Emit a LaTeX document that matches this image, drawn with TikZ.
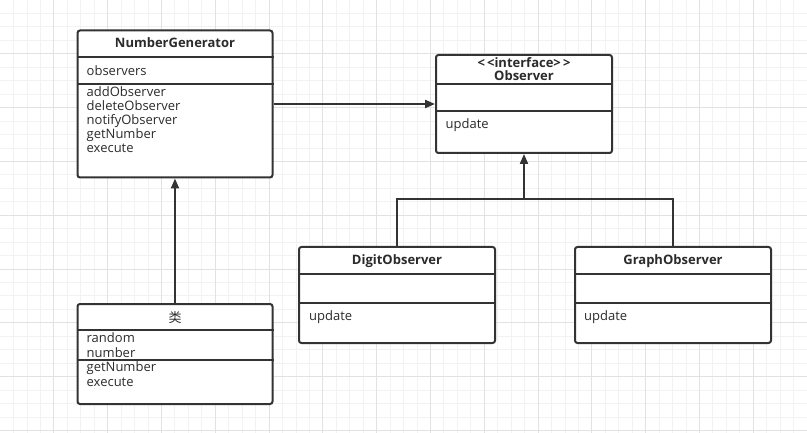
\documentclass[tikz,border=0pt]{standalone}
\usepackage{fontspec}
\setmainfont{Open Sans}
\newfontfamily\cjk{Noto Sans CJK SC}
\usetikzlibrary{arrows.meta}

\definecolor{umlline}{HTML}{333333}
\definecolor{umltext}{HTML}{2B2B2B}
\definecolor{gridminor}{HTML}{F2F2F2}
\definecolor{gridmajor}{HTML}{E2E2E2}
\newcommand\umlsize{\fontsize{13}{14}\selectfont}

\tikzset{
  classbox/.style={draw=umlline, line width=2pt, rounded corners=2.5pt, fill=white, inner sep=0pt},
  sepline/.style={draw=umlline, line width=2pt},
  title/.style={font=\umlsize\bfseries, text=umltext, anchor=base, inner sep=0pt},
  member/.style={font=\umlsize, text=umltext, anchor=base west, inner sep=0pt},
  link/.style={draw=umlline, line width=2pt, -{Triangle[length=10pt,width=8pt]}},
}

\begin{document}
\begin{tikzpicture}[x=1pt, y=-1pt]
  \useasboundingbox (0,0) rectangle (807,433);
  \fill[white] (0,0) rectangle (807,433);
  \foreach \i in {1,...,60} \draw[gridminor, line width=0.8pt] (\i*13.45,0) -- (\i*13.45,433);
  \foreach \i in {1,...,32} \draw[gridminor, line width=0.8pt] (0,\i*13.45) -- (807,\i*13.45);
  \foreach \i in {1,...,15} \draw[gridmajor, line width=0.8pt] (\i*53.8,0) -- (\i*53.8,433);
  \foreach \i in {1,...,8} \draw[gridmajor, line width=0.8pt] (0,\i*53.8) -- (807,\i*53.8);

  \draw (175,104) node[classbox, minimum width=195, minimum height=147] (gen) {};
  \draw[sepline] (gen.west |- 0,57) -- (gen.east |- 0,57);
  \draw[sepline] (gen.west |- 0,84) -- (gen.east |- 0,84);
  \draw (175,48) node[title] (gen-name) {NumberGenerator};
  \draw (86.5,75.5) node[member] (gen-attr) {observers};
  \foreach \m [count=\k] in {addObserver, deleteObserver, notifyObserver, getNumber, execute}
    \draw (86.5,{96.5+14*(\k-1)}) node[member] (gen-op\k) {\m};

  \draw (524,104) node[classbox, minimum width=176, minimum height=98] (obs) {};
  \draw[sepline] (obs.west |- 0,84) -- (obs.east |- 0,84);
  \draw[sepline] (obs.west |- 0,111) -- (obs.east |- 0,111);
  \draw (524,67.3) node[title] (obs-stereo) {<\,<interface>\,>};
  \draw (524,81) node[title] (obs-name) {Observer};
  \draw (445.5,128.5) node[member] (obs-op) {update};

  \draw (175,354) node[classbox, minimum width=195, minimum height=100] (cls) {};
  \draw[sepline] (cls.west |- 0,330) -- (cls.east |- 0,330);
  \draw[sepline] (cls.west |- 0,360) -- (cls.east |- 0,360);
  \draw (175,323) node[title, font=\umlsize\cjk] (cls-name) {类};
  \draw (86.5,342.5) node[member] (cls-attr1) {random};
  \draw (86.5,357) node[member] (cls-attr2) {number};
  \draw (86.5,371.5) node[member] (cls-op1) {getNumber};
  \draw (86.5,386) node[member] (cls-op2) {execute};

  \draw (397,295) node[classbox, minimum width=196, minimum height=96] (dig) {};
  \draw[sepline] (dig.west |- 0,274) -- (dig.east |- 0,274);
  \draw[sepline] (dig.west |- 0,303) -- (dig.east |- 0,303);
  \draw (397,265) node[title] (dig-name) {DigitObserver};
  \draw (309,320.5) node[member] (dig-op) {update};

  \draw (673,295) node[classbox, minimum width=196, minimum height=96] (gra) {};
  \draw[sepline] (gra.west |- 0,274) -- (gra.east |- 0,274);
  \draw[sepline] (gra.west |- 0,303) -- (gra.east |- 0,303);
  \draw (673,265) node[title] (gra-name) {GraphObserver};
  \draw (584,320.5) node[member] (gra-op) {update};

  \coordinate (split) at (obs.south |- 0,199);
  \path (gen) edge[link] (obs)
        (cls) edge[link] (gen);
  \draw[sepline] (dig) |- (split) -| (gra);
  \draw[link] (split) -- (obs);
\end{tikzpicture}
\end{document}
